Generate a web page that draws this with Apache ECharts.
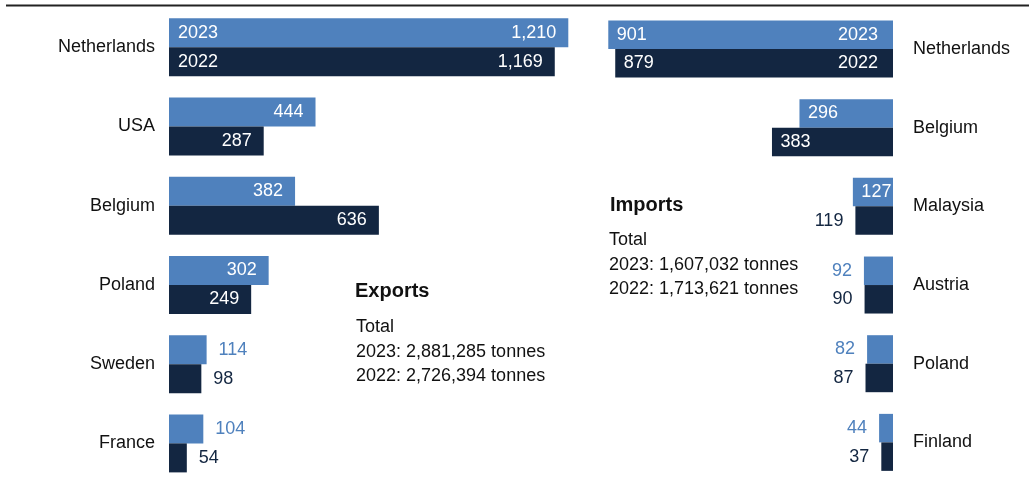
<!DOCTYPE html>
<html>
<head>
<meta charset="utf-8">
<script src="https://cdn.jsdelivr.net/npm/echarts@6/dist/echarts.min.js"></script>
<style>html,body{margin:0;padding:0;background:#fff;}#c{width:1029px;height:483px;}</style>
</head>
<body>
<div id="c"></div>
<script>
var years = ['2023', '2022'];
var exportCountries = ['Netherlands', 'USA', 'Belgium', 'Poland', 'Sweden', 'France'];
var exports2023 = [1210, 444, 382, 302, 114, 104];
var exports2022 = [1169, 287, 636, 249, 98, 54];
var exportTotals = ['2,881,285', '2,726,394'];
var importCountries = ['Netherlands', 'Belgium', 'Malaysia', 'Austria', 'Poland', 'Finland'];
var imports2023 = [901, 296, 127, 92, 82, 44];
var imports2022 = [879, 383, 119, 90, 87, 37];
var importTotals = ['1,607,032', '1,713,621'];

var C23 = '#4F81BD', C22 = '#132641';
var FONT = '"Liberation Sans", Arial, sans-serif';
var INSIDE_MIN = 120;

function fmt(v) { return v.toLocaleString('en-US'); }

function items(values, color, side) {
  return values.map(function (v) {
    var inside = v >= INSIDE_MIN;
    var pos, dist;
    if (side === 'exp') { pos = inside ? 'insideRight' : 'right'; dist = 12; }
    else { pos = inside ? 'insideLeft' : 'left'; dist = inside ? 8.5 : 12; }
    return { value: v, label: { position: pos, distance: dist, color: inside ? '#fff' : color } };
  });
}

function valueSeries(name, values, color, xi, yi, side, bw) {
  return {
    type: 'bar', name: name, xAxisIndex: xi, yAxisIndex: yi,
    barWidth: bw, barGap: '0%',
    itemStyle: { color: color },
    label: { show: true, fontSize: 18, fontFamily: FONT, formatter: function (p) { return fmt(p.value); } },
    data: items(values, color, side),
    silent: true
  };
}

function yearSeries(year, values, xi, yi, pos, dist, bw) {
  return {
    type: 'bar', xAxisIndex: xi, yAxisIndex: yi,
    barWidth: bw, barGap: '0%',
    itemStyle: { color: 'rgba(0,0,0,0)' },
    label: {
      show: true, position: pos, distance: dist, color: '#fff', fontSize: 18, fontFamily: FONT,
      formatter: function (p) { return p.dataIndex === 0 ? year : ''; }
    },
    data: values, silent: true, z: 3
  };
}

function catAxis(gi, data, pos, margin, show) {
  return {
    type: 'category', gridIndex: gi, data: data, inverse: true, position: pos, show: show,
    axisLine: { show: false }, axisTick: { show: false },
    axisLabel: { margin: margin, fontSize: 18, color: '#111', fontFamily: FONT }
  };
}

var chart = echarts.init(document.getElementById('c'), null, { renderer: 'canvas' });
chart.setOption({
  animation: false,
  grid: [
    { left: 169, top: 7.7, width: 429, height: 479 },
    { left: 577, top: 9.7, width: 316, height: 472 }
  ],
  xAxis: [
    { type: 'value', gridIndex: 0, min: 0, max: 1300, show: false },
    { type: 'value', gridIndex: 1, min: 0, max: 1000, inverse: true, show: false }
  ],
  yAxis: [
    catAxis(0, exportCountries, 'left', 14, true),
    catAxis(0, exportCountries, 'left', 14, false),
    catAxis(1, importCountries, 'right', 20, true),
    catAxis(1, importCountries, 'right', 20, false)
  ],
  series: [
    valueSeries(years[0], exports2023, C23, 0, 0, 'exp', 29),
    valueSeries(years[1], exports2022, C22, 0, 0, 'exp', 29),
    yearSeries(years[0], exports2023, 0, 1, 'insideLeft', 9, 29),
    yearSeries(years[1], exports2022, 0, 1, 'insideLeft', 9, 29),
    valueSeries(years[0], imports2023, C23, 1, 2, 'imp', 28.5),
    valueSeries(years[1], imports2022, C22, 1, 2, 'imp', 28.5),
    yearSeries(years[0], imports2023, 1, 3, 'insideRight', 15, 28.5),
    yearSeries(years[1], imports2022, 1, 3, 'insideRight', 15, 28.5)
  ],
  graphic: [
    { type: 'line', shape: { x1: 6, y1: 5.5, x2: 1029, y2: 5.5 }, style: { stroke: '#222', lineWidth: 2 } },
    { type: 'text', left: 355, top: 281, style: { text: 'Exports', font: 'bold 20px ' + FONT, fill: '#111' } },
    { type: 'text', left: 356, top: 315, style: { text: 'Total\n' + years[0] + ': ' + exportTotals[0] + ' tonnes\n' + years[1] + ': ' + exportTotals[1] + ' tonnes', font: '18px ' + FONT, lineHeight: 24.5, fill: '#111' } },
    { type: 'text', left: 610, top: 195, style: { text: 'Imports', font: 'bold 20px ' + FONT, fill: '#111' } },
    { type: 'text', left: 609, top: 228, style: { text: 'Total\n' + years[0] + ': ' + importTotals[0] + ' tonnes\n' + years[1] + ': ' + importTotals[1] + ' tonnes', font: '18px ' + FONT, lineHeight: 24.5, fill: '#111' } }
  ]
});
</script>
</body>
</html>
